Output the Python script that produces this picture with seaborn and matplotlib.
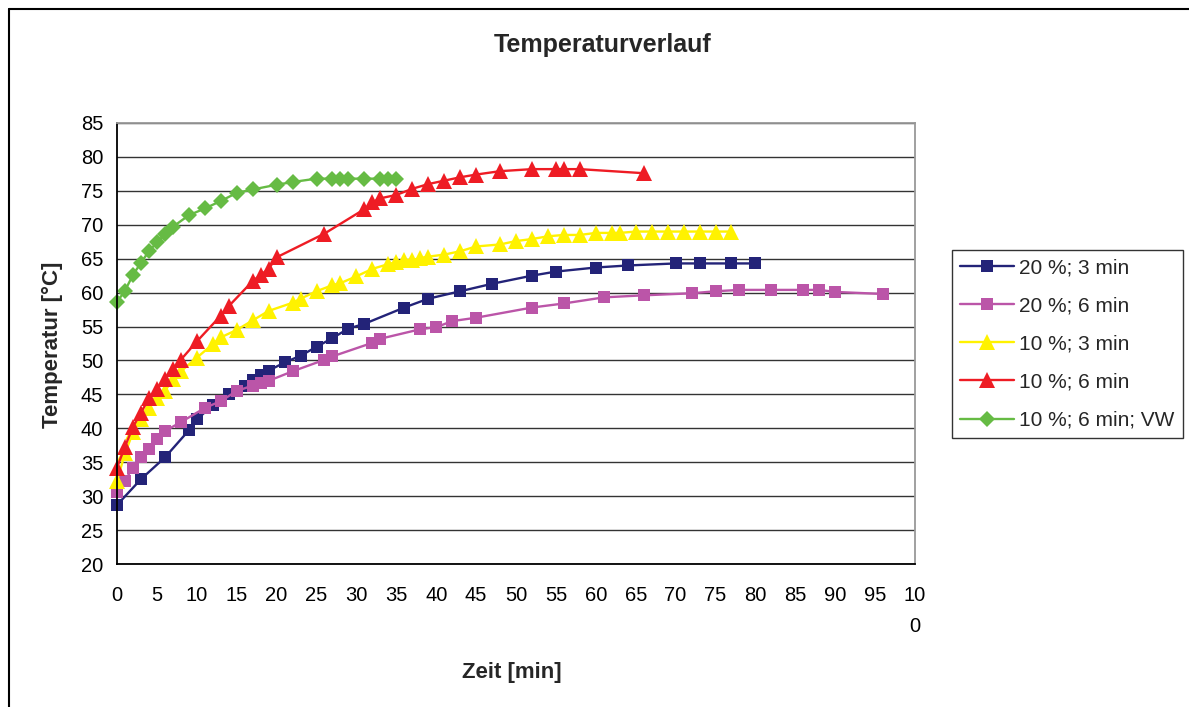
import matplotlib
matplotlib.use("Agg")
import matplotlib.pyplot as plt
import matplotlib.lines as mlines
import pandas as pd
import seaborn as sns

# series data (time in min, temperature in °C)
t_20_3 = [0, 3, 6, 9, 10, 12, 14, 16, 17, 18, 19, 21, 23, 25, 27, 29, 31,
          36, 39, 43, 47, 52, 55, 60, 64, 70, 73, 77, 80]
T_20_3 = [28.7, 32.5, 35.7, 39.7, 41.3, 43.4, 45.1, 46.3, 47.1, 47.9, 48.5, 49.7, 50.7, 52.0, 53.3, 54.7, 55.4,
          57.8, 59.1, 60.2, 61.3, 62.5, 63.1, 63.7, 64.0, 64.3, 64.3, 64.3, 64.3]

t_20_6 = [0, 1, 2, 3, 4, 5, 6, 8, 11, 13, 15, 17, 18, 19, 22, 26, 27, 32, 33, 38, 40, 42, 45,
          52, 56, 61, 66, 72, 75, 78, 82, 86, 88, 90, 96]
T_20_6 = [30.6, 32.3, 34.2, 35.7, 37.0, 38.4, 39.6, 40.9, 43.0, 44.0, 45.5, 46.3, 46.7, 47.0, 48.4,
          50.1, 50.6, 52.6, 53.2, 54.6, 54.9, 55.8, 56.3,
          57.8, 58.4, 59.3, 59.6, 59.9, 60.2, 60.4, 60.4, 60.4, 60.4, 60.1, 59.8]

t_10_3 = [0, 1, 2, 3, 4, 5, 6, 7, 8, 10, 12, 13, 15, 17, 19, 22, 23, 25, 27, 28, 30,
          32, 34, 35, 36, 37, 38, 39, 41, 43, 45, 48, 50, 52, 54, 56, 58, 60,
          62, 63, 65, 67, 69, 71, 73, 75, 77]
T_10_3 = [32.3, 36.3, 39.4, 41.3, 43.0, 44.5, 45.5, 47.2, 48.4, 50.4, 52.4, 53.4, 54.5, 55.9, 57.3,
          58.5, 59.1, 60.2, 61.1, 61.4, 62.4,
          63.5, 64.2, 64.5, 64.8, 64.8, 65.1, 65.3, 65.6, 66.1, 66.8, 67.1, 67.6, 67.9, 68.3, 68.5, 68.5, 68.8,
          68.8, 68.8, 69.0, 69.0, 69.0, 69.0, 69.0, 69.0, 69.0]

t_10_6 = [0, 1, 2, 3, 4, 5, 6, 7, 8, 10, 13, 14, 17, 18, 19, 20, 26, 31, 32, 33, 35,
          37, 39, 41, 43, 45, 48, 52, 55, 56, 58, 66]
T_10_6 = [34.2, 37.3, 40.2, 42.3, 44.4, 45.8, 47.2, 48.7, 50.1, 52.8, 56.6, 58.0, 61.7, 62.6, 63.5,
          65.2, 68.7, 72.3, 73.3, 73.9, 74.4,
          75.3, 76.0, 76.5, 77.0, 77.4, 77.9, 78.2, 78.2, 78.2, 78.2, 77.6]

t_10_6_vw = [0, 1, 2, 3, 4, 5, 6, 7, 9, 11, 13, 15, 17, 20, 22, 25, 27, 28, 29, 31, 33, 34, 35]
T_10_6_vw = [58.6, 60.3, 62.6, 64.4, 66.1, 67.4, 68.6, 69.7, 71.4, 72.4, 73.5, 74.7, 75.2, 75.9,
             76.3, 76.8, 76.8, 76.8, 76.8, 76.8, 76.8, 76.8, 76.8]

series = ["20 %; 3 min", "20 %; 6 min", "10 %; 3 min", "10 %; 6 min", "10 %; 6 min; VW"]
colors = ["#232378", "#BB55A8", "#FFF200", "#EE1C24", "#66BB44"]
marker_styles = ["s", "s", "^", "^", "D"]

x_ticks = list(range(0, 101, 5))
x_tick_labels = [str(v) for v in x_ticks[:-1]] + ["10\n0"]
y_ticks = list(range(20, 86, 5))

frames = []
for name, t, T in zip(series,
                      [t_20_3, t_20_6, t_10_3, t_10_6, t_10_6_vw],
                      [T_20_3, T_20_6, T_10_3, T_10_6, T_10_6_vw]):
    frames.append(pd.DataFrame({"Zeit": t, "Temperatur": T, "Serie": name}))
df = pd.concat(frames, ignore_index=True)

sns.set_style("white")
plt.rcParams["font.family"] = ["Liberation Sans", "DejaVu Sans"]

fig = plt.figure(figsize=(11.89, 7.07), dpi=100)
ax = fig.add_axes([117 / 1189, 1 - 564 / 707, 798 / 1189, 441 / 707])

sns.lineplot(data=df, x="Zeit", y="Temperatur", hue="Serie", style="Serie",
             hue_order=series, style_order=series,
             palette=dict(zip(series, colors)),
             markers=dict(zip(series, marker_styles)), dashes=False,
             estimator=None, sort=True, linewidth=1.7, markeredgewidth=0,
             legend=False, ax=ax)

# bigger triangles, smaller diamonds as in the original
sizes = {"s": 9, "^": 11.5, "D": 8}
for line in ax.lines:
    m = line.get_marker()
    if m in sizes:
        line.set_markersize(sizes[m])
        line.set_clip_on(False)

ax.set_xlim(0, 100)
ax.set_ylim(20, 85)
ax.set_xticks(x_ticks)
ax.set_xticklabels(x_tick_labels)
for lab in ax.get_xticklabels():
    lab.set_linespacing(1.8)
ax.set_yticks(y_ticks)
ax.tick_params(axis="both", direction="out", length=6, width=1, color="black",
               labelsize=14.5, labelcolor="black")
ax.tick_params(axis="x", pad=10)
ax.tick_params(axis="y", pad=4)

ax.yaxis.grid(True, color="#333333", linewidth=1)
ax.xaxis.grid(False)
ax.set_axisbelow(True)
for side in ["left", "bottom"]:
    ax.spines[side].set_color("black")
    ax.spines[side].set_linewidth(1.3)
for side in ["top", "right"]:
    ax.spines[side].set_color("#999999")
    ax.spines[side].set_linewidth(1.3)

ax.set_xlabel("Zeit [min]", fontsize=16, fontweight="bold")
ax.set_ylabel("Temperatur [°C]", fontsize=16, fontweight="bold")
ax.xaxis.set_label_coords(0.495, -0.222)
ax.yaxis.set_label_coords(-0.068, 0.497)

fig.text(603 / 1189, 1 - 45 / 707, "Temperaturverlauf", ha="center", va="center",
         fontsize=18, fontweight="bold")

handles = [mlines.Line2D([], [], color=c, marker=m, markersize=sizes[m], markeredgewidth=0,
                         linewidth=1.7)
           for c, m in zip(colors, marker_styles)]
leg = fig.legend(handles, series, loc="center left",
                 bbox_to_anchor=(952 / 1189, 1 - 344 / 707),
                 fontsize=15, frameon=True, fancybox=False, edgecolor="black",
                 handlelength=2.6, handletextpad=0.25, labelspacing=0.92,
                 borderpad=0.38, borderaxespad=0)
leg.get_frame().set_linewidth(1)

# outer chart border (only top and left visible in the reference)
fig.add_artist(mlines.Line2D([9 / 1189, 9 / 1189], [0, 1 - 9 / 707], color="black", linewidth=1.5))
fig.add_artist(mlines.Line2D([9 / 1189, 1], [1 - 9 / 707, 1 - 9 / 707], color="black", linewidth=1.5))

fig.savefig("out.png", dpi=100)
